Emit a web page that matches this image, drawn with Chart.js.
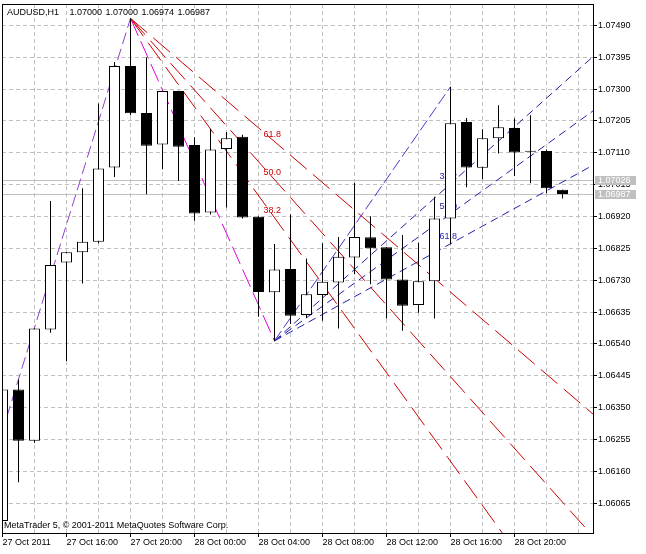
<!DOCTYPE html>
<html>
<head>
<meta charset="utf-8">
<script src="https://cdn.jsdelivr.net/npm/chart.js@4.4.0/dist/chart.umd.min.js"></script>
<style>
html,body{margin:0;padding:0;background:#fff;overflow:hidden}
#wrap{position:relative;width:646px;height:554px}
</style>
</head>
<body>
<div id="wrap"><canvas id="c" width="646" height="554"></canvas></div>
<script>
// ---------- DATA ----------
const barTimes = [
  '27 Oct 12:00','27 Oct 13:00','27 Oct 14:00','27 Oct 15:00','27 Oct 16:00','27 Oct 17:00',
  '27 Oct 18:00','27 Oct 19:00','27 Oct 20:00','27 Oct 21:00','27 Oct 22:00','27 Oct 23:00',
  '28 Oct 00:00','28 Oct 01:00','28 Oct 02:00','28 Oct 03:00','28 Oct 04:00','28 Oct 05:00',
  '28 Oct 06:00','28 Oct 07:00','28 Oct 08:00','28 Oct 09:00','28 Oct 10:00','28 Oct 11:00',
  '28 Oct 12:00','28 Oct 13:00','28 Oct 14:00','28 Oct 15:00','28 Oct 16:00','28 Oct 17:00',
  '28 Oct 18:00','28 Oct 19:00','28 Oct 20:00','28 Oct 21:00','28 Oct 22:00','28 Oct 23:00'
];
const openP  = [1.06012,1.06404,1.06251,1.06583,1.06783,1.06813,1.06845,1.07066,1.07369,1.07229,1.07135,1.07294,
                1.07133,1.06932,1.07121,1.07158,1.06919,1.06694,1.06763,1.06626,1.06686,1.06723,1.06798,1.06858,
                1.06828,1.06732,1.06656,1.06727,1.06914,1.07202,1.07065,1.07153,1.07184,1.07116,1.07115,1.07000];
const highP  = [1.06410,1.06434,1.06587,1.06966,1.06814,1.07004,1.07257,1.07381,1.07511,1.07395,1.07295,1.07295,
                1.07156,1.07182,1.07172,1.07164,1.06921,1.06838,1.06927,1.06795,1.06840,1.06859,1.07020,1.06921,
                1.06829,1.06865,1.06842,1.06979,1.07307,1.07214,1.07180,1.07252,1.07213,1.07222,1.07120,1.07000];
const lowP   = [1.06000,1.06127,1.06245,1.06573,1.06489,1.06720,1.06840,1.07038,1.07222,1.06986,1.07061,1.07026,
                1.06907,1.06926,1.06947,1.06914,1.06621,1.06549,1.06599,1.06617,1.06609,1.06586,1.06748,1.06718,
                1.06616,1.06579,1.06633,1.06616,1.06837,1.07007,1.07031,1.07108,1.07041,1.07019,1.06989,1.06974];
const closeP = [1.06404,1.06251,1.06586,1.06775,1.06813,1.06845,1.07063,1.07369,1.07228,1.07131,1.07294,1.07128,
                1.06929,1.07120,1.07153,1.06917,1.06695,1.06762,1.06624,1.06688,1.06725,1.06800,1.06859,1.06825,
                1.06732,1.06654,1.06727,1.06914,1.07198,1.07066,1.07153,1.07186,1.07111,1.07113,1.07004,1.06987];

const yTicks = [1.07490,1.07395,1.07300,1.07205,1.07110,1.07015,1.06920,1.06825,
                1.06730,1.06635,1.06540,1.06445,1.06350,1.06255,1.06160,1.06065];
const gridBars = [0,2,4,6,8,10,12,14,16,18,20,22,24,26,28,30,32,34,36];
const xLabelBars = [0,4,8,12,16,20,24,28,32];
const xLabelText = ['27 Oct 2011','27 Oct 16:00','27 Oct 20:00','28 Oct 00:00','28 Oct 04:00',
                    '28 Oct 08:00','28 Oct 12:00','28 Oct 16:00','28 Oct 20:00'];

const symbolText = 'AUDUSD,H1';
const headerValues = [1.07000, 1.07000, 1.06974, 1.06987];
const askPrice = 1.07026;
const bidPrice = 1.06987;

// Fibonacci fans: anchor bars and prices
const fanLevels = [38.2, 50.0, 61.8];
const redFanBars = [8, 17];
const redFanPrices = [1.07511, 1.06549];
const blueFanBars = [17, 28];
const blueFanPrices = [1.06549, 1.07307];
// earlier trend line (starts one bar before the visible window)
const leftTrendBars = [-1, 8];
const leftTrendPrices = [1.06127, 1.07511];

// ---------- VIEW ----------
const X_MIN = -0.03125, X_MAX = 36.90625;
const Y_MIN = 1.059759, Y_MAX = 1.075538;
const RAY_END = 40;
const FONT = '"Liberation Sans", Arial, sans-serif';

const idx = barTimes.map((_, i) => i);

function fanRays(bars, prices) {
  const [t1, t2] = bars, [p1, p2] = prices;
  return fanLevels.map(lev => {
    const lp = p2 + lev / 100 * (p1 - p2);
    const pe = p1 + (lp - p1) * (RAY_END - t1) / (t2 - t1);
    return { lev, lp, pts: [{x: t1, y: p1}, {x: RAY_END, y: pe}] };
  });
}
const redRays = fanRays(redFanBars, redFanPrices);
const blueRays = fanRays(blueFanBars, blueFanPrices);

function lineDS(pts, color, dash, order) {
  return { type: 'line', data: pts, borderColor: color, borderWidth: 1, borderDash: dash,
           pointRadius: 0, pointHoverRadius: 0, fill: false, tension: 0, order: order };
}

const datasets = [
  { type: 'bar', data: idx.map(i => ({x: i, y: [openP[i], closeP[i]]})),
    backgroundColor: idx.map(i => closeP[i] >= openP[i] ? '#ffffff' : '#000000'),
    borderColor: '#000000', borderWidth: 1, borderSkipped: false,
    barThickness: 11, grouped: false, inflateAmount: 0, clip: 0, order: 0 },
  { type: 'bar', data: idx.map(i => ({x: i, y: [lowP[i], highP[i]]})),
    backgroundColor: '#000000', borderWidth: 0,
    barThickness: 1, grouped: false, inflateAmount: 0, clip: 0, order: 1 },
  lineDS(leftTrendBars.map((t, i) => ({x: t, y: leftTrendPrices[i]})), '#9040D0', [12, 5], 3),
  lineDS(redFanBars.map((t, i) => ({x: t, y: redFanPrices[i]})), '#DD00DD', [19, 6], 3),
  lineDS(blueFanBars.map((t, i) => ({x: t, y: blueFanPrices[i]})), '#5533CC', [12, 4], 3),
  ...redRays.map(r => lineDS(r.pts, '#CC0000', [22, 8], 4)),
  ...blueRays.map(r => lineDS(r.pts, '#2222AA', [8, 5], 4))
];

const overlay = {
  id: 'overlay',
  beforeDatasetsDraw(chart) {
    const {ctx, chartArea: a, scales: {x, y}} = chart;
    ctx.save();
    ctx.beginPath(); ctx.rect(a.left, a.top, a.right - a.left, a.bottom - a.top); ctx.clip();
    ctx.strokeStyle = '#C0C0C0'; ctx.lineWidth = 1; ctx.setLineDash([]);
    [askPrice, bidPrice].forEach(p => {
      const py = Math.round(y.getPixelForValue(p) - 0.5) + 0.5;
      ctx.beginPath(); ctx.moveTo(a.left, py); ctx.lineTo(a.right, py); ctx.stroke();
    });
    ctx.font = '9px ' + FONT; ctx.textBaseline = 'middle'; ctx.textAlign = 'left';
    const lab = (rays, t2, col) => rays.forEach(r => {
      ctx.fillStyle = col;
      ctx.fillText(r.lev.toFixed(1), x.getPixelForValue(t2) - 11, y.getPixelForValue(r.lp) - 7.5);
    });
    lab(redRays, redFanBars[1], '#CC0000');
    lab(blueRays, blueFanBars[1], '#2222AA');
    ctx.restore();
  },
  afterDatasetsDraw(chart) {
    const {ctx, chartArea: a} = chart;
    ctx.save();
    ctx.strokeStyle = '#000'; ctx.lineWidth = 1; ctx.setLineDash([]);
    ctx.strokeRect(a.left + 0.5, a.top + 0.5, a.right - a.left, a.bottom - a.top);
    ctx.restore();
  },
  afterDraw(chart) {
    const {ctx, scales: {y}} = chart;
    ctx.save();
    ctx.font = '9px ' + FONT; ctx.textBaseline = 'middle'; ctx.textAlign = 'left';
    ctx.fillStyle = '#000';
    ctx.fillText(symbolText, 7, 12.5);
    headerValues.forEach((v, i) => ctx.fillText(v.toFixed(5), 69.5 + i * 36, 12.5));
    ctx.fillText('MetaTrader 5, \u00A9 2001-2011 MetaQuotes Software Corp.', 4, 526);
    [askPrice, bidPrice].forEach(p => {
      const cy = y.getPixelForValue(p);
      ctx.fillStyle = '#C0C0C0';
      ctx.fillRect(595, Math.round(cy - 4.5), 41, 9);
      ctx.fillStyle = '#ffffff';
      ctx.fillText(p.toFixed(5), 598, cy);
    });
    ctx.restore();
  }
};

new Chart(document.getElementById('c'), {
  type: 'line',
  data: { datasets },
  options: {
    responsive: false, animation: false, devicePixelRatio: 1, events: [],
    layout: { autoPadding: false, padding: { left: 2, top: 4, right: 0, bottom: 0 } },
    plugins: { legend: { display: false }, tooltip: { enabled: false }, title: { display: false } },
    scales: {
      x: {
        type: 'linear', min: X_MIN, max: X_MAX, offset: false, bounds: 'data',
        afterBuildTicks: s => { s.ticks = gridBars.map(v => ({ value: v })); },
        afterFit: s => { s.height = 21; s.paddingLeft = 0; s.paddingRight = 0; },
        grid: { color: '#C0C0C0', lineWidth: 1, offset: false, drawTicks: true, tickLength: 4, tickWidth: 1,
                tickBorderDash: [],
                tickColor: c => (c.tick && xLabelBars.includes(c.tick.value)) ? '#000' : 'rgba(0,0,0,0)' },
        border: { display: false, dash: [4, 3] },
        ticks: { autoSkip: false, maxRotation: 0, minRotation: 0, align: 'start', padding: 0,
                 color: '#000', font: { family: FONT, size: 9 },
                 callback: v => { const i = xLabelBars.indexOf(v); return i >= 0 ? xLabelText[i] : ''; } }
      },
      y: {
        type: 'linear', position: 'right', min: Y_MIN, max: Y_MAX, bounds: 'data',
        afterBuildTicks: s => { s.ticks = yTicks.map(v => ({ value: v })); },
        afterFit: s => { s.width = 53; s.paddingTop = 0; s.paddingBottom = 0; },
        grid: { color: '#C0C0C0', lineWidth: 1, drawTicks: true, tickLength: 4, tickWidth: 1,
                tickColor: '#000', tickBorderDash: [] },
        border: { display: false, dash: [4, 3] },
        ticks: { padding: 1, color: '#000', font: { family: FONT, size: 9 },
                 callback: v => Number(v).toFixed(5) }
      }
    }
  },
  plugins: [overlay]
});
</script>
</body>
</html>
